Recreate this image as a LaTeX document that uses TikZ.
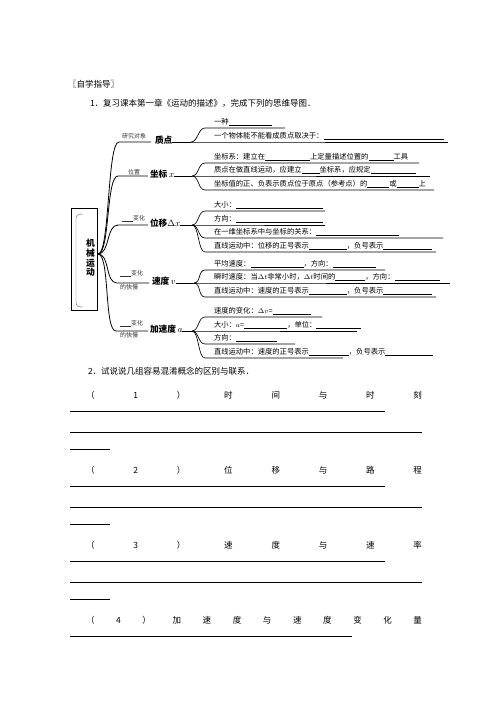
\documentclass[tikz,border=0pt]{standalone}
\usepackage{fontspec}
\setmainfont{Noto Sans CJK SC}
\usepackage{tikz}
\usetikzlibrary{positioning}
\newcommand{\fillin}[1]{\rule[-1.2pt]{#1pt}{0.45pt}}
\begin{document}
\begin{tikzpicture}[
    x=1pt, y=-1pt,
    every node/.style={inner sep=0pt, outer sep=0pt},
    body/.style={anchor=base west, font=\fontsize{8.5}{10}\selectfont},
    item/.style={anchor=base west, font=\fontsize{7.3}{9}\selectfont},
    topic/.style={anchor=base west, font=\fontsize{8.7}{10}\selectfont\bfseries},
    tag/.style={anchor=base west, font=\fontsize{6}{7}\selectfont, text=black!80},
    branch/.style={line width=0.8pt},
    twig/.style={line width=0.65pt},
    answer/.style={line width=0.6pt}
]
\useasboundingbox (0,0) rectangle (496,702);

\node[body] (guide) at (68,87) {〖自学指导〗};
\node[body] (task1) at (90,106) {1．复习课本第一章《运动的描述》，完成下列的思维导图．};

\node[draw, line width=0.6pt, minimum width=26pt, minimum height=102pt] (mech) at (84.5,259) {};
\node[font=\fontsize{8.8}{9.6}\selectfont\bfseries, align=center] (mechtext) at (90.5,258) {机\\械\\运\\动};
\draw[black!60, line width=0.4pt] (83,214) .. controls (78,214) and (76,215) .. (76,219) -- (76,302) .. controls (76,306) and (78,307) .. (83,307);
\coordinate (hub) at (98,254);

% zhidian
\coordinate (zdB) at (119,142);
\coordinate (zdL) at (151,142);
\coordinate (zdJ) at (191,142);
\node[topic] (zd) at (155,143.5) {质点};
\node[tag] (zdtag) at (122,138.3) {研究对象};
\draw[branch] (hub) .. controls +(12,0) and +(-12,0) .. (zdB) -- (zdL);
\draw[branch] (zd.east |- zdL) -- (zdJ);
\foreach \y/\e/\t [count=\i] in {128/285/{一种\fillin{43}},
    142/448/{一个物体能不能看成质点取决于：\fillin{120}}}{
  \coordinate (zd\i) at (205,\y);
  \coordinate (zde\i) at (\e,\y);
  \node[item] (zdt\i) at (214,\y-4) {\t};
  \draw[twig] (zdJ) .. controls +(7,0) and +(-7,0) .. (zd\i) -- (zde\i);
}

% zuobiao
\coordinate (zbB) at (118,176);
\coordinate (zbL) at (148,176);
\coordinate (zbJ) at (192,176);
\node[topic] (zb) at (150,177.2) {坐标\,$x$};
\node[tag] (zbtag) at (128,174.3) {位置};
\draw[branch] (hub) .. controls +(12,0) and +(-12,0) .. (zbB) -- (zbL);
\draw[branch] (zb.east |- zbL) -- (zbJ);
\foreach \y/\e/\t [count=\i] in {163/419/{坐标系：建立在\fillin{45}上定量描述位置的\fillin{25}工具},
    176/430/{质点在做直线运动，应建立\fillin{18}坐标系，应规定\fillin{45}},
    190/434/{坐标值的正、负表示质点位于原点（参考点）的\fillin{22}或\fillin{22}上}}{
  \coordinate (zb\i) at (205,\y);
  \coordinate (zbe\i) at (\e,\y);
  \node[item] (zbt\i) at (214,\y-4) {\t};
  \draw[twig] (zbJ) .. controls +(7,0) and +(-7,0) .. (zb\i) -- (zbe\i);
}

% weiyi
\coordinate (wyB) at (118,225);
\coordinate (wyL) at (148,225);
\coordinate (wyJ) at (192,225);
\node[topic] (wy) at (150,226.2) {位移$\Delta x$};
\node[tag] (wytag) at (122,220.3) {\fillin{11}变化};
\draw[branch] (hub) .. controls +(12,0) and +(-12,0) .. (wyB) -- (wyL);
\draw[branch] (wy.east |- wyL) -- (wyJ);
\foreach \y/\e/\t [count=\i] in {211/325/{大小：\fillin{87}},
    225/325/{方向：\fillin{87}},
    238/443/{在一维坐标系中与坐标的关系：\fillin{83}},
    252/436/{直线运动中：位移的正号表示\fillin{38}，负号表示\fillin{49}}}{
  \coordinate (wy\i) at (205,\y);
  \coordinate (wye\i) at (\e,\y);
  \node[item] (wyt\i) at (214,\y-4) {\t};
  \draw[twig] (wyJ) .. controls +(7,0) and +(-7,0) .. (wy\i) -- (wye\i);
}

% sudu
\coordinate (sdB) at (117,283);
\coordinate (sdL) at (149,283);
\coordinate (sdJ) at (194,283);
\node[topic] (sd) at (152,284.2) {速度\,$v$};
\node[tag] (sdtag) at (120,275.3) {\fillin{11}变化};
\node[tag] (sdtagb) at (120,289.3) {的快慢};
\draw[branch] (hub) .. controls +(12,0) and +(-12,0) .. (sdB) -- (sdL);
\draw[branch] (sd.east |- sdL) -- (sdJ);
\foreach \y/\e/\t [count=\i] in {270/385/{平均速度：\fillin{53}，方向：\fillin{43}},
    283/450/{瞬时速度：当$\Delta t$非常小时，$\Delta t$时间的\fillin{30}，方向：\fillin{45}},
    297/436/{直线运动中：速度的正号表示\fillin{38}，负号表示\fillin{49}}}{
  \coordinate (sd\i) at (205,\y);
  \coordinate (sde\i) at (\e,\y);
  \node[item] (sdt\i) at (214,\y-4) {\t};
  \draw[twig] (sdJ) .. controls +(7,0) and +(-7,0) .. (sd\i) -- (sde\i);
}

% jiasudu
\coordinate (jsB) at (116,331);
\coordinate (jsL) at (148,331);
\coordinate (jsJ) at (192,331);
\node[topic] (js) at (150,332.2) {加速度\,$a$};
\node[tag] (jstag) at (120,325.3) {\fillin{11}变化};
\node[tag] (jstagb) at (120,337.8) {的快慢};
\draw[branch] (hub) .. controls +(12,0) and +(-12,0) .. (jsB) -- (jsL);
\draw[branch] (js.east |- jsL) -- (jsJ);
\foreach \y/\e/\t [count=\i] in {317/322/{速度的变化：$\Delta v$=\fillin{38}},
    331/357/{大小：$a$=\fillin{43}，单位：\fillin{45}},
    344/295/{方向：\fillin{41}},
    358/343/{直线运动中：速度的正号表示\fillin{40}，负号表示\fillin{48}}}{
  \coordinate (js\i) at (205,\y);
  \coordinate (jse\i) at (\e,\y);
  \node[item] (jst\i) at (214,\y-4) {\t};
  \draw[twig] (jsJ) .. controls +(7,0) and +(-7,0) .. (js\i) -- (jse\i);
}

\node[body] (task2) at (88,374.2) {2．试说说几组容易混淆概念的区别与联系．};
\foreach \k/\t in {0/{（\hfill 1\hfill ）\hfill 时\hfill 间\hfill 与\hfill 时\hfill 刻},
    1/{（\hfill 2\hfill ）\hfill 位\hfill 移\hfill 与\hfill 路\hfill 程},
    2/{（\hfill 3\hfill ）\hfill 速\hfill 度\hfill 与\hfill 速\hfill 率}}{
  \node[body, text width=336pt] (pair\k) at (86,398.2+75*\k) {\t};
  \draw[answer] (70,411+75*\k) -- (385,411+75*\k);
  \draw[answer] (70,432+75*\k) -- (422,432+75*\k);
  \draw[answer] (70,449+75*\k) -- (110,449+75*\k);
}
\node[body, text width=336pt] (pair3) at (86,623.2) {（\hfill 4\hfill ）\hfill 加\hfill 速\hfill 度\hfill 与\hfill 速\hfill 度\hfill 变\hfill 化\hfill 量};
\draw[answer] (70,636) -- (352,636);
\end{tikzpicture}
\end{document}
